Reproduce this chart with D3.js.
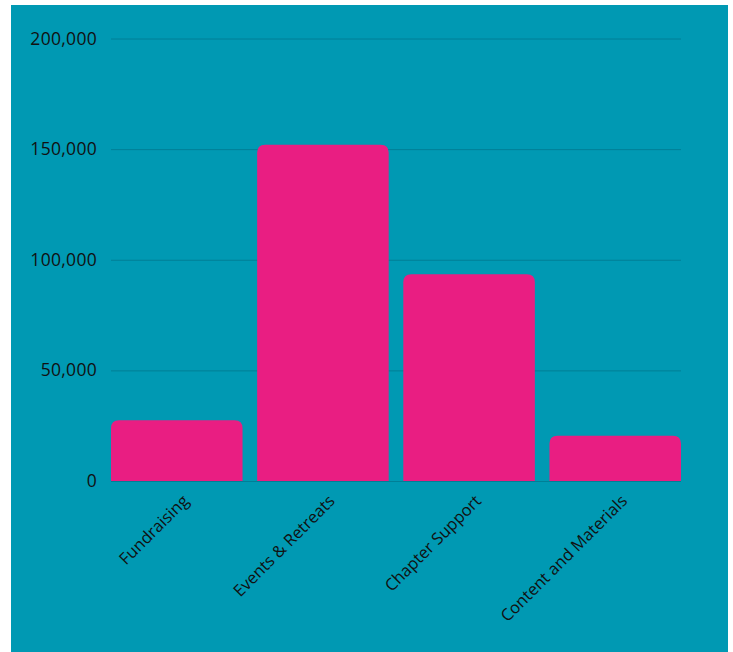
<!DOCTYPE html>
<html>
<head>
<meta charset="utf-8">
<script src="https://cdn.jsdelivr.net/npm/d3@7"></script>
<style>
  body { margin: 0; background: #fff; }
  svg text { font-family: "Open Sans", sans-serif; }
</style>
</head>
<body>
<svg id="chart" width="733" height="652"></svg>
<script>
const categories = ["Fundraising", "Events & Retreats", "Chapter Support", "Content and Materials"];
const values = [27500, 152000, 93500, 20500];
const yTicks = [0, 50000, 100000, 150000, 200000];

const WIDTH = 733;
const HEIGHT = 652;
const margin = { top: 38.5, right: 52, bottom: 171, left: 111 };
const RADIUS = 8;

const svg = d3.select("#chart");

svg
  .append("rect")
  .attr("x", 11)
  .attr("y", 5)
  .attr("width", 717)
  .attr("height", HEIGHT - 5)
  .attr("fill", "#0099b3");

const xScale = d3
  .scaleBand()
  .domain(categories)
  .range([margin.left, WIDTH - margin.right])
  .paddingInner(0.1)
  .paddingOuter(0);

const yScale = d3
  .scaleLinear()
  .domain([0, 200000])
  .range([HEIGHT - margin.bottom, margin.top]);

// gridlines + y labels
const yAxis = svg
  .append("g")
  .attr("transform", `translate(${margin.left}, 0)`)
  .call(
    d3
      .axisLeft(yScale)
      .tickValues(yTicks)
      .tickFormat(d3.format(","))
      .tickSize(-(WIDTH - margin.left - margin.right))
      .tickPadding(14)
  );

yAxis.select(".domain").remove();
yAxis.selectAll(".tick line").attr("stroke", "#007f96").attr("stroke-width", 1);
yAxis
  .selectAll(".tick text")
  .attr("fill", "#111")
  .style("font-size", "17.5px")
  .style("letter-spacing", "0.3px");

// bars with rounded top corners
function barPath(x, y, w, h, r) {
  const rr = Math.min(r, h, w / 2);
  return `M${x},${y + h}V${y + rr}Q${x},${y} ${x + rr},${y}H${x + w - rr}Q${x + w},${y} ${x + w},${y + rr}V${y + h}Z`;
}

svg
  .append("g")
  .selectAll("path")
  .data(categories)
  .enter()
  .append("path")
  .attr("fill", "#e91e82")
  .attr("d", (d, i) => {
    const x = xScale(d);
    const y = yScale(values[i]);
    return barPath(x, y, xScale.bandwidth(), yScale(0) - y, RADIUS);
  });

// x labels
const xAxis = svg
  .append("g")
  .attr("transform", `translate(0, ${yScale(0)})`)
  .call(d3.axisBottom(xScale).tickSize(0).tickPadding(0));

xAxis.select(".domain").remove();
xAxis
  .selectAll(".tick text")
  .attr("fill", "#111")
  .style("font-size", "16.5px")
  .attr("text-anchor", "end")
  .attr("dy", 0)
  .attr("transform", "translate(13, 21) rotate(-45)");
</script>
</body>
</html>
